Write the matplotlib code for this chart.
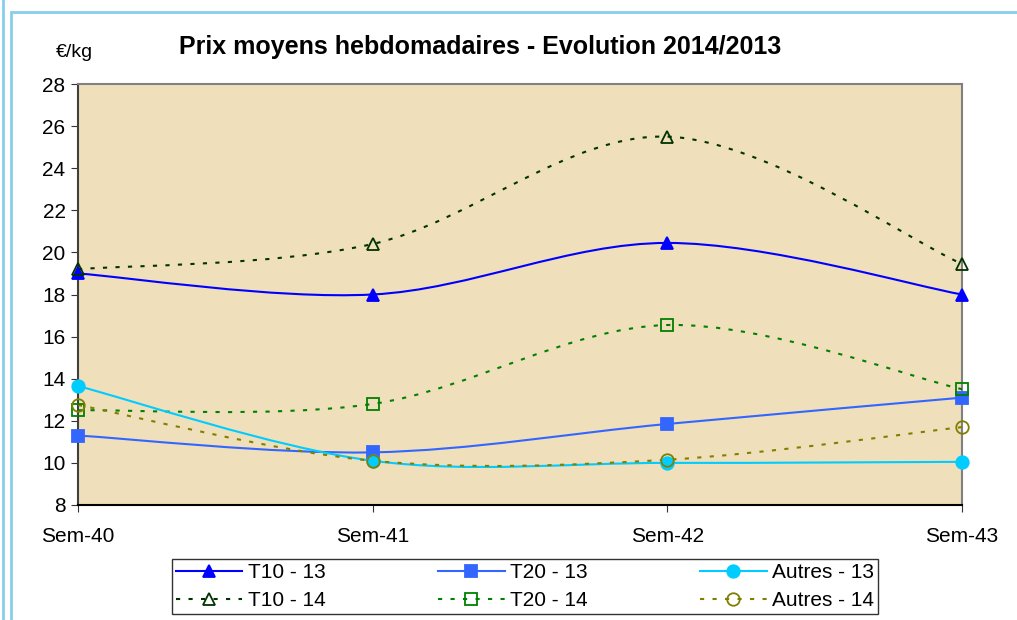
import numpy as np
import matplotlib.pyplot as plt
from matplotlib.path import Path
from matplotlib.patches import PathPatch, Rectangle
from matplotlib.lines import Line2D

plt.rcParams['font.family'] = ['Liberation Sans', 'DejaVu Sans']

# Données
semaines = ['Sem-40', 'Sem-41', 'Sem-42', 'Sem-43']
t10_13 = [19.0, 18.0, 20.45, 18.0]
t20_13 = [11.3, 10.5, 11.85, 13.1]
autres_13 = [13.65, 10.1, 10.0, 10.05]
t10_14 = [19.2, 20.4, 25.5, 19.45]
t20_14 = [12.5, 12.8, 16.55, 13.5]
autres_14 = [12.75, 10.1, 10.15, 11.7]


def smooth_path(x, y):
    """Courbe lissée façon Excel (Bezier, type Catmull-Rom)."""
    pts = np.column_stack([x, y]).astype(float)
    ext = np.vstack([pts[0], pts, pts[-1]])
    verts = [pts[0]]
    codes = [Path.MOVETO]
    for i in range(len(pts) - 1):
        p0, p1, p2, p3 = ext[i], ext[i + 1], ext[i + 2], ext[i + 3]
        c1 = p1 + (p2 - p0) / 6.0
        c2 = p2 - (p3 - p1) / 6.0
        verts += [c1, c2, p2]
        codes += [Path.CURVE4] * 3
    return Path(verts, codes)


series = [
    ('T10 - 13', t10_13, '#0000FF', '-', '^', True),
    ('T10 - 14', t10_14, '#003300', (0, (2, 4)), '^', False),
    ('T20 - 13', t20_13, '#3366FF', '-', 's', True),
    ('T20 - 14', t20_14, '#008000', (0, (2, 4)), 's', False),
    ('Autres - 13', autres_13, '#00CCFF', '-', 'o', True),
    ('Autres - 14', autres_14, '#808000', (0, (2, 4)), 'o', False),
]

fig = plt.figure(figsize=(10.17, 6.2), dpi=100)
ax = fig.add_axes([0.0767, 0.1855, 0.8693, 0.679])
ax.set_facecolor('#EFDFBA')

# cadres bleu clair
fig.add_artist(Line2D([0.003, 0.003], [0, 1], color='#87CEEB', lw=2, transform=fig.transFigure))
fig.add_artist(Rectangle((0.011, -0.05), 1.2, 1.03, transform=fig.transFigure,
                         fill=False, edgecolor='#87CEEB', lw=2))

x = np.arange(len(semaines))
handles = []
for label, vals, color, ls, marker, filled in series:
    patch = PathPatch(smooth_path(x, vals), facecolor='none', edgecolor=color,
                      lw=1.5, linestyle=ls, zorder=3)
    ax.add_patch(patch)
    ax.plot(x, vals, linestyle='none', marker=marker, markersize=9,
            markerfacecolor=color if filled else 'none',
            markeredgecolor=color, markeredgewidth=1.3, zorder=4, clip_on=False)
    handles.append(Line2D([], [], color=color, linestyle=ls, lw=1.5, marker=marker,
                          markersize=9, markerfacecolor=color if filled else 'none',
                          markeredgecolor=color, markeredgewidth=1.3, label=label))

ax.set_xlim(0, len(semaines) - 1)
ax.set_ylim(8, 28)
ax.set_yticks(np.arange(8, 29, 2))
ax.set_xticks(x)
ax.set_xticklabels(semaines)
ax.tick_params(axis='both', labelsize=15, direction='out', length=5, color='#333333')
ax.tick_params(axis='x', pad=11)
ax.tick_params(axis='y', pad=4)

ax.spines['left'].set_color('#404040')
ax.spines['bottom'].set_color('#000000')
ax.spines['top'].set_color('#808080')
ax.spines['right'].set_color('#808080')
for s in ax.spines.values():
    s.set_linewidth(1.5)

fig.text(0.4725, 0.924, 'Prix moyens hebdomadaires - Evolution 2014/2013',
         fontsize=18, fontweight='bold', ha='center', va='center')
fig.text(0.073, 0.916, '€/kg', fontsize=14, ha='center', va='center')

leg = fig.legend(handles=handles, ncol=3, loc='center',
                 bbox_to_anchor=(0.516, 0.0535), fontsize=15, frameon=True,
                 fancybox=False, edgecolor='black', borderpad=0.2,
                 handlelength=3.2, columnspacing=5.4, labelspacing=0.42,
                 handletextpad=0.25)
leg.get_frame().set_linewidth(1.0)

fig.savefig('out.png', dpi=100)
